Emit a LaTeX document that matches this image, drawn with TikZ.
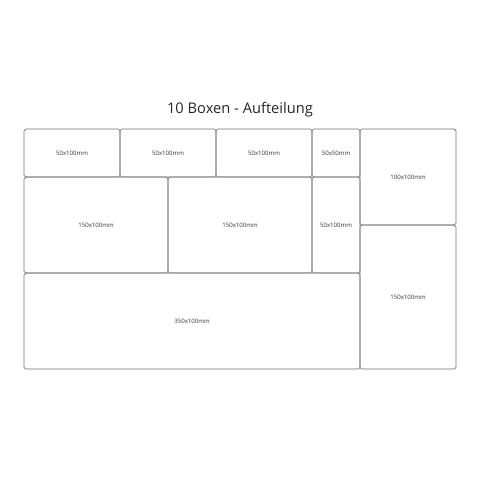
\documentclass[tikz,border=0pt]{standalone}
\usepackage{fontspec}
\setmainfont{Open Sans}
\usepackage{tikz}
\tikzstyle{box}=[rectangle, rounded corners=1pt, draw=black!55, line width=0.45pt, inner sep=0pt, font=\fontsize{3.6}{4}\selectfont, text=black!80]
\tikzstyle{title}=[inner sep=0pt, font=\fontsize{8.7}{10}\selectfont, text=black!85]

\begin{document}
\begin{tikzpicture}
				\useasboundingbox (0,0) rectangle (10,10);
				%The title
				\draw (5,7.625) node[title, anchor=base] (titel) {10 Boxen - Aufteilung};
				
				%Row 1
				\draw (1.5,6.81) node[box, minimum width=2cm, minimum height=1cm] (b1) {50x100mm};
				\draw (3.5,6.81) node[box, minimum width=2cm, minimum height=1cm] (b2) {50x100mm};
				\draw (5.5,6.81) node[box, minimum width=2cm, minimum height=1cm] (b3) {50x100mm};
				\draw (7,6.81) node[box, minimum width=1cm, minimum height=1cm] (b4) {50x50mm};
				
				%Row 2
				\draw (2,5.31) node[box, minimum width=3cm, minimum height=2cm] (b6) {150x100mm};
				\draw (5,5.31) node[box, minimum width=3cm, minimum height=2cm] (b7) {150x100mm};
				\draw (7,5.31) node[box, minimum width=1cm, minimum height=2cm] (b8) {50x100mm};
				
				%Row 3
				\draw (4,3.31) node[box, minimum width=7cm, minimum height=2cm] (b9) {350x100mm};
				
				%Right column
				\draw (8.5,6.31) node[box, minimum width=2cm, minimum height=2cm] (b5) {100x100mm};
				\draw (8.5,3.81) node[box, minimum width=2cm, minimum height=3cm] (b10) {150x100mm};
			\end{tikzpicture}
\end{document}
